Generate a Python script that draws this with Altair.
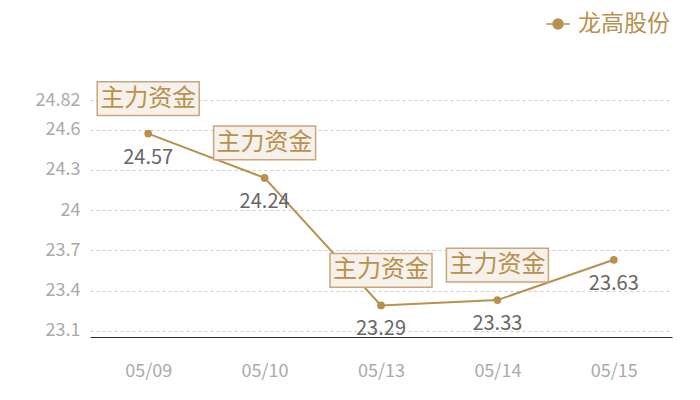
import altair as alt
import pandas as pd

dates = ["05/09", "05/10", "05/13", "05/14", "05/15"]
prices = [24.57, 24.24, 23.29, 23.33, 23.63]
has_tag = [True, True, True, True, False]
series_name = "龙高股份"
tag_text = "主力资金"
y_ticks = [23.1, 23.4, 23.7, 24, 24.3, 24.6, 24.82]
y_domain = [23.055, 24.82]

FONT = "Noto Sans CJK SC"
GOLD = "#b8914f"

df = pd.DataFrame({"date": dates, "price": prices, "tag": has_tag, "series": series_name})
df["tagtext"] = tag_text
tags = df[df["tag"]]

x = alt.X("date:N", sort=dates, scale=alt.Scale(type="point", padding=0.5),
          axis=alt.Axis(title=None, labelAngle=0, ticks=False, domainColor="#333333",
                        domainWidth=1, labelColor="#aaaaaa", labelFontSize=18,
                        labelFont=FONT, labelPadding=25, grid=False))
y = alt.Y("price:Q", scale=alt.Scale(domain=y_domain, zero=False, nice=False),
          axis=alt.Axis(title=None, values=y_ticks, domain=False, ticks=False,
                        labelColor="#aaaaaa", labelFontSize=18, labelFont=FONT,
                        labelPadding=10, grid=True, gridColor="#cccccc",
                        gridDash=[3, 3], gridWidth=1, format=".4~g"))

legend_path = "M-1,0L1,0M-0.42,0A0.42,0.42,0,1,1,0.42,0A0.42,0.42,0,1,1,-0.42,0"

line = alt.Chart(df).mark_line(strokeWidth=2).encode(
    x=x, y=y,
    color=alt.Color("series:N", scale=alt.Scale(range=[GOLD]),
                    legend=alt.Legend(title=None, orient="none", legendX=455, legendY=-89,
                                      labelFont=FONT, labelFontSize=23, labelColor=GOLD,
                                      symbolType=legend_path, symbolSize=560,
                                      symbolStrokeWidth=1.5, symbolFillColor=GOLD,
                                      symbolStrokeColor=GOLD, labelOffset=7,
                                      labelLimit=400, padding=0)))

points = alt.Chart(df).mark_circle(size=60, opacity=1, color=GOLD).encode(x=x, y=y)

box_path = "M-1,-0.33L1,-0.33L1,0.33L-1,0.33Z"
boxes = alt.Chart(tags).mark_point(shape=box_path, size=10404, filled=True,
                                   fill="#f6f1ea", stroke="#c9a77a", strokeWidth=1.5,
                                   opacity=1, yOffset=-35).encode(x=x, y=y)

box_text = alt.Chart(tags).mark_text(font=FONT, fontSize=24, color=GOLD, yOffset=-35,
                                     baseline="middle").encode(x=x, y=y, text="tagtext:N")

values = alt.Chart(df).mark_text(font=FONT, fontSize=20, color="#666666", yOffset=24,
                                 baseline="middle").encode(
    x=x, y=y, text=alt.Text("price:Q", format=".2f"))

chart = alt.layer(line, points, boxes, box_text, values).properties(
    width=582, height=237,
    background="white",
    autosize=alt.AutoSizeParams(type="none"),
    padding={"left": 82, "top": 92, "right": 18, "bottom": 50},
).configure_view(strokeWidth=0)

chart.save("out.html", embed_options={"renderer": "svg", "actions": False})
